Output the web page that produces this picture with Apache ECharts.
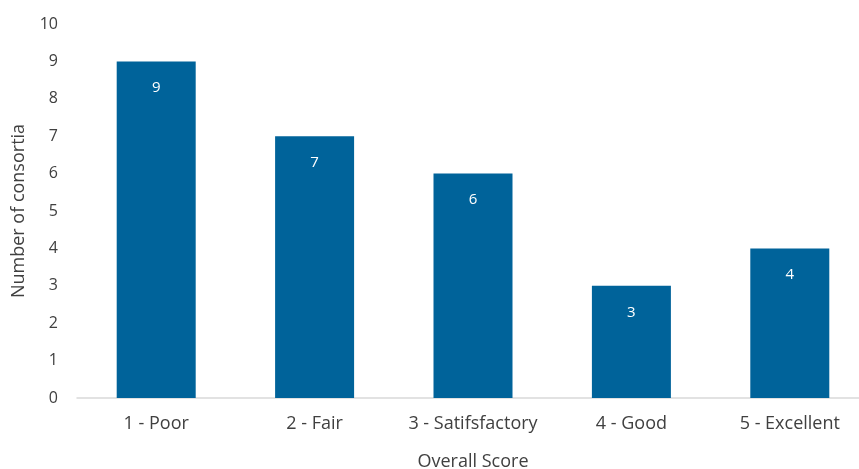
<!DOCTYPE html>
<html><head><meta charset="utf-8">
<script src="https://cdn.jsdelivr.net/npm/echarts@6/dist/echarts.min.js"></script>
<style>html,body{margin:0;padding:0;background:#fff}#c{width:859px;height:469px}</style>
</head><body><div id="c"></div>
<script>
const categories = ['1 - Poor', '2 - Fair', '3 - Satifsfactory', '4 - Good', '5 - Excellent'];
const counts = [9, 7, 6, 3, 4];
const yMin = 0, yMax = 10, yStep = 1;
const font = 'Open Sans';
const chart = echarts.init(document.getElementById('c'));
chart.setOption({
  animation: false,
  grid: { left: 77, right: -10, top: 24, bottom: 71, outerBoundsMode: 'none', containLabel: false },
  xAxis: {
    type: 'category', data: categories,
    axisLine: { lineStyle: { color: '#d9d9d9', width: 1.5 } },
    axisTick: { show: false },
    axisLabel: { color: '#404040', fontSize: 18, fontFamily: font, margin: 17, interval: 0, hideOverlap: false },
    name: 'Overall Score', nameLocation: 'middle', nameGap: 55,
    nameTextStyle: { color: '#404040', fontSize: 18, fontFamily: font }
  },
  yAxis: {
    type: 'value', min: yMin, max: yMax, interval: yStep,
    splitLine: { show: false },
    axisLine: { show: false }, axisTick: { show: false },
    axisLabel: { color: '#404040', fontSize: 16, fontFamily: font, margin: 19 },
    name: 'Number of consortia', nameLocation: 'middle', nameGap: 49,
    nameTextStyle: { color: '#404040', fontSize: 18, fontFamily: font }
  },
  series: [{
    type: 'bar', data: counts, barWidth: 79,
    itemStyle: { color: '#00639a' },
    label: { show: true, position: 'insideTop', distance: 19, color: '#ffffff', fontSize: 15, fontFamily: font }
  }]
});
</script></body></html>
